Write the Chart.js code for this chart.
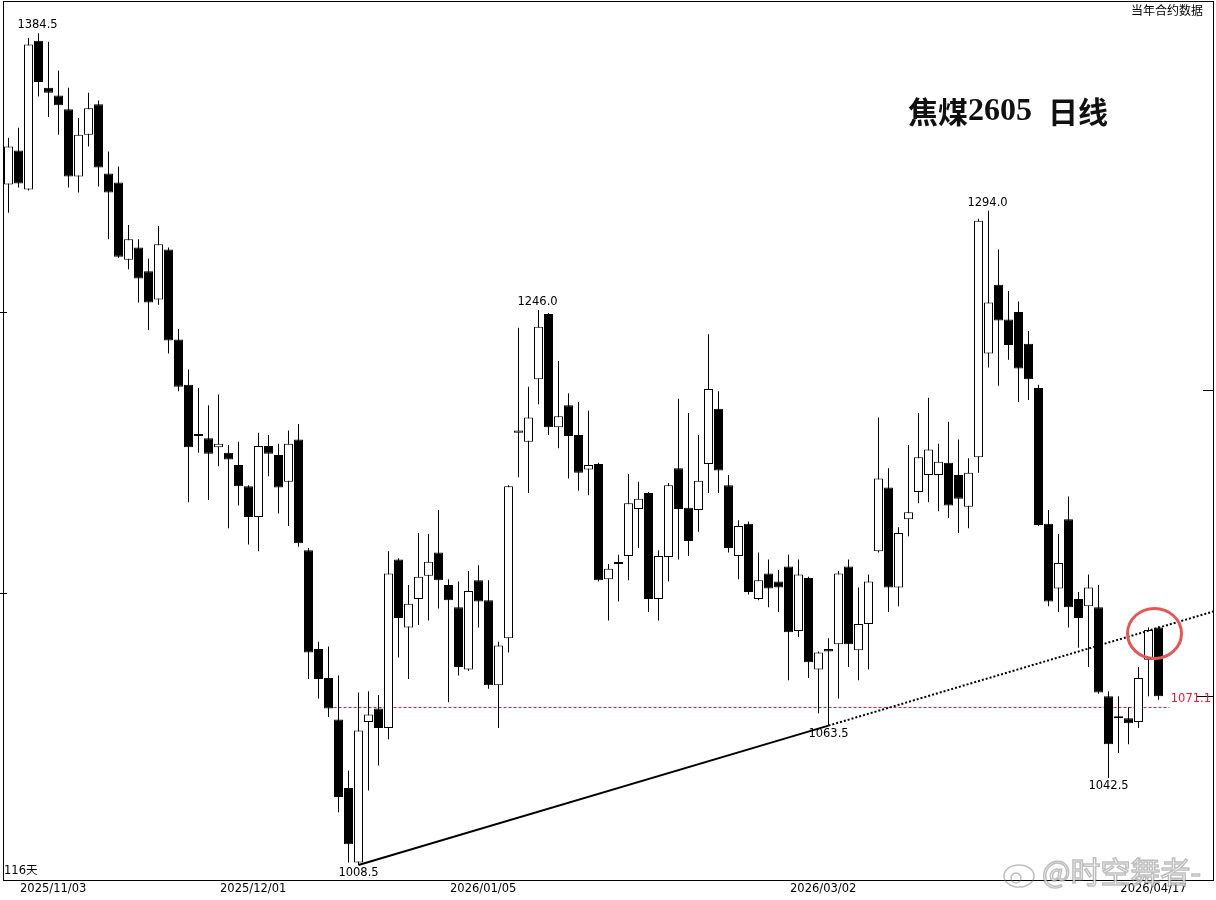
<!DOCTYPE html>
<html><head><meta charset="utf-8">
<script src="https://cdn.jsdelivr.net/npm/chart.js@4.4.1/dist/chart.umd.min.js"></script>
<style>html,body{margin:0;padding:0;background:#fff;overflow:hidden}canvas{display:block}</style>
</head><body>
<canvas id="c" width="1216" height="900"></canvas>
<script>
const opens = [1307,1324,1304.5,1380.5,1356,1352,1345,1311,1332,1347.5,
1312.5,1308,1270,1276,1264.5,1251,1275,1232,1211,1187.5,
1186.5,1182.5,1180,1174.5,1165,1151.5,1183,1179,1167,1186,
1137,1095,1083,1066,1038.5,1009.5,1065,1070.5,1062.5,1133,
1104,1116,1126,1136,1122,1112.5,1086.5,1124,1115.5,1080,
1099.5,1189,1185,1213.5,1244,1191.5,1201.5,1188,1172.5,1175,
1124.5,1131.5,1134.5,1155,1162,1116,1134,1173,1155.5,1154.5,
1175,1200,1165.5,1134.5,1148.5,1116,1127,1123.5,1130,1102.5,
1125,1086.5,1095,1097,1130,1094.5,1105.5,1136.5,1164.5,1121,
1150.5,1162.5,1170,1170,1175.5,1170,1156,1178,1225.5,1258,
1241.5,1245,1230,1209.5,1148.5,1120.5,1150.5,1116,1113,1112.5,
1075.5,1066.5,1066.5,1065,1090.5,1104];
const highs = [1330.5,1335.5,1382,1384.5,1380,1365,1356,1340.5,1353.5,1349.5,
1323.5,1316,1287,1280,1270.5,1286.5,1276,1237,1218,1209.5,
1201.5,1206.5,1183.5,1185,1165.5,1189,1188,1184,1190,1193,
1138,1098,1096,1084,1045.5,1077,1077.5,1076,1136.5,1133.5,
1122,1144.5,1144,1154.5,1124.5,1123.5,1128,1130.5,1124,1098,
1165.5,1237.5,1210,1246,1244.5,1222,1207,1203,1199,1175.5,
1131,1135,1170.5,1167,1162.5,1137,1166.5,1204.5,1198,1188,
1234.5,1208,1170,1150,1149.5,1136,1133,1128.5,1135,1133,
1125.5,1094,1099.5,1128,1133,1121,1126.5,1196,1173,1147,
1183.5,1198,1205,1184,1194,1186,1177.5,1290,1294,1275,
1255,1250,1236,1211,1154.5,1144,1160.5,1119,1126.5,1122,
1077.5,1075.5,1071,1087.5,1104,1104.5];
const lows = [1293,1305.5,1304,1351.5,1341,1332,1305.5,1303,1326,1306,
1280,1271,1265.5,1249.5,1236.5,1248.5,1225.5,1208,1158,1180,
1159,1174,1146.5,1156.5,1139.5,1136.5,1169.5,1153,1147.5,1138.5,
1082.5,1074.5,1067,1029,1009.5,1008.5,1037.5,1047.5,1058,1091.5,
1082.5,1105,1107,1112,1073,1084,1086,1104,1078.5,1062.5,
1093.5,1169,1162,1202,1188,1182,1168.5,1163,1161,1123.5,
1107,1115,1124,1138,1110.5,1107,1123.5,1133,1134.5,1145,
1162,1162,1136,1124.5,1118,1115.5,1112.5,1110.5,1082,1100,
1083,1068.5,1063.5,1074.5,1087.5,1082,1086.5,1136,1110.5,1113,
1143,1157.5,1158,1154,1151,1144.5,1146.5,1171,1219,1210.5,
1222.5,1203,1204,1147.5,1113,1110.5,1104,1095.5,1087.5,1076.5,
1042.5,1052.5,1056,1062.5,1075.5,1074];
const closes = [1326,1307.5,1378.5,1359,1353.5,1347,1311,1332,1345.5,1315.5,
1303,1271.5,1280,1261,1249.5,1277.5,1231.5,1210,1182.5,1188.5,
1179.5,1184,1177,1165,1151.5,1183,1179.5,1164.5,1184,1140,
1093.5,1082.5,1070.5,1035,1016.5,1061.5,1068,1062.5,1127,1108,
1114,1125.5,1132,1124,1115.5,1087.5,1119.5,1115,1080,1096.5,
1165,1190,1196,1238,1191.5,1196.5,1187.5,1171,1174.5,1124,
1129,1131,1157.5,1159.5,1116,1134.5,1165.5,1155,1141,1167.5,
1209,1172,1138,1147.5,1119,1124,1120.5,1121,1102,1126.5,
1089.5,1093.5,1094,1127,1097,1105.5,1123.5,1168.5,1121,1144.5,
1153.5,1178,1181.5,1176,1156.5,1159.5,1171,1289,1249.5,1241,
1229.5,1218.5,1213.5,1148,1115,1131.5,1112.5,1108,1121,1077,
1056,1066.5,1064.5,1083,1103,1075.5];

const tickIndex = [1, 21, 44, 78, 115];
const tickLabels = ['2025/11/03', '2025/12/01', '2026/01/05', '2026/03/02', '2026/04/17'];
const highMarks = [3, 53, 98];
const lowMarks = [35, 82, 110];
const trendFrom = 35, trendTo = 82;
const refLevel = 1071.1;
const refStart = 32;
const circleIdx = 114.6, circleVal = 1101.5;
const titleParts = ['焦煤', '2605', '  ', '日线'];
const cornerNote = '当年合约数据';
const dayCount = '116天';
const watermark = '@时空舞者-';

const idx = opens.map((_, i) => i);
const bodyData = idx.map(i => ({x: i, y: [opens[i], closes[i]]}));
const wickData = idx.map(i => ({x: i, y: [lows[i], highs[i]]}));
const bodyColors = idx.map(i => closes[i] > opens[i] ? '#ffffff' : '#000000');

const NUM_FONT = '11.5px "DejaVu Sans"';
const RED = '#dc1e3a';

const deco = {
  id: 'deco',
  beforeDatasetsDraw(chart) {
    const {ctx, chartArea: a, scales: {x, y}} = chart;
    ctx.save();
    const yl = Math.round(y.getPixelForValue(refLevel)) + 0.5;
    ctx.strokeStyle = RED; ctx.lineWidth = 1; ctx.setLineDash([3, 2]);
    ctx.beginPath(); ctx.moveTo(x.getPixelForValue(refStart), yl); ctx.lineTo(a.right - 44, yl); ctx.stroke();
    ctx.restore();
  },
  afterDatasetsDraw(chart) {
    const {ctx, chartArea: a, scales: {x, y}} = chart;
    ctx.save();
    // frame
    ctx.fillStyle = '#000';
    ctx.fillRect(3, 1, 1, 880);
    ctx.fillRect(3, 1, 1211, 1);
    ctx.fillRect(1213, 1, 1, 880);
    ctx.fillRect(3, 880, 1211, 1);
    [1245, 1118.5].forEach(v => { const yy = Math.round(y.getPixelForValue(v)); ctx.fillRect(0, yy, 7, 1); });
    { const yy = Math.round(y.getPixelForValue(1208.5)); ctx.fillRect(1203, yy, 10, 1); }

    // trend line
    const x1 = x.getPixelForValue(trendFrom), y1 = y.getPixelForValue(lows[trendFrom]);
    const x2 = x.getPixelForValue(trendTo), y2 = y.getPixelForValue(lows[trendTo]);
    const slope = (y2 - y1) / (x2 - x1);
    ctx.strokeStyle = '#000'; ctx.lineWidth = 2;
    ctx.beginPath(); ctx.moveTo(x1, y1); ctx.lineTo(x2, y2); ctx.stroke();
    ctx.setLineDash([2, 2]);
    ctx.beginPath(); ctx.moveTo(x2, y2); ctx.lineTo(a.right, y2 + slope * (a.right - x2)); ctx.stroke();
    ctx.setLineDash([]);

    // circle
    ctx.strokeStyle = '#e05858'; ctx.lineWidth = 3;
    ctx.beginPath();
    ctx.ellipse(x.getPixelForValue(circleIdx), y.getPixelForValue(circleVal), 27, 25, 0, 0, Math.PI * 2);
    ctx.stroke();

    // last price marker
    const lp = Math.round(y.getPixelForValue(closes[closes.length - 1])) + 0.5;
    ctx.strokeStyle = '#000'; ctx.lineWidth = 1;
    ctx.beginPath(); ctx.moveTo(a.right - 17, lp); ctx.lineTo(a.right, lp); ctx.stroke();

    // high / low labels
    ctx.font = NUM_FONT; ctx.fillStyle = '#000'; ctx.textAlign = 'center'; ctx.textBaseline = 'middle';
    highMarks.forEach(i => ctx.fillText(highs[i].toFixed(1), x.getPixelForValue(i) - 1, y.getPixelForValue(highs[i]) - 8));
    lowMarks.forEach(i => ctx.fillText(lows[i].toFixed(1), x.getPixelForValue(i), y.getPixelForValue(lows[i]) + 8));

    // ref label
    ctx.fillStyle = RED; ctx.textAlign = 'right';
    ctx.fillText(refLevel.toFixed(1), 1211, y.getPixelForValue(refLevel) - 8);

    // x tick labels
    ctx.fillStyle = '#000'; ctx.textBaseline = 'middle';
    tickIndex.forEach((t, k) => {
      const px = x.getPixelForValue(t);
      const w = ctx.measureText(tickLabels[k]).width;
      if (px + w > a.right - 10) { ctx.textAlign = 'center'; ctx.fillText(tickLabels[k], px - 5, 889); }
      else { ctx.textAlign = 'left'; ctx.fillText(tickLabels[k], px + 1.5, 889); }
    });

    // day count
    ctx.textAlign = 'left'; ctx.font = '11.5px "DejaVu Sans", "Noto Sans CJK SC"';
    ctx.fillText(dayCount, 4, 871);

    // corner note
    ctx.font = '12px "Noto Sans CJK SC"'; ctx.textAlign = 'right';
    ctx.fillText(cornerNote, 1203, 10);

    // title
    ctx.textAlign = 'left'; ctx.textBaseline = 'middle';
    let tx = 908;
    titleParts.forEach((p, k) => {
      ctx.font = (k === 1 || k === 2) ? 'bold 32px "Liberation Serif"' : '600 30px "Noto Sans CJK SC"';
      ctx.fillStyle = '#111';
      ctx.fillText(p, tx, 112);
      tx += ctx.measureText(p).width;
    });

    // watermark
    ctx.font = '30px "Noto Sans CJK SC"';
    ctx.textAlign = 'left'; ctx.textBaseline = 'middle';
    ctx.lineWidth = 1.5; ctx.strokeStyle = 'rgba(110,110,110,0.45)'; ctx.fillStyle = 'rgba(255,255,255,0.8)';
    ctx.fillText(watermark, 1042, 872); ctx.strokeText(watermark, 1042, 872);
    ctx.beginPath(); ctx.ellipse(1019, 876, 15, 11, 0, 0, Math.PI * 2); ctx.stroke();
    ctx.beginPath(); ctx.arc(1016, 878, 5, 0, Math.PI * 2); ctx.stroke();
    ctx.restore();
  }
};

new Chart(document.getElementById('c'), {
  type: 'bar',
  data: {
    datasets: [
      {label: 'body', data: bodyData, backgroundColor: bodyColors, borderColor: '#000', borderWidth: 1,
       borderSkipped: false, barThickness: 9, minBarLength: 2, grouped: false, inflateAmount: 0, order: 0},
      {label: 'wick', data: wickData, backgroundColor: '#000', borderWidth: 0,
       barThickness: 1, grouped: false, inflateAmount: 0, order: 1}
    ]
  },
  options: {
    responsive: false, animation: false, devicePixelRatio: 1, events: [],
    layout: {padding: {left: 3.5, right: 2.5, top: 1, bottom: 20}},
    plugins: {legend: {display: false}, tooltip: {enabled: false}},
    scales: {
      x: {type: 'linear', min: -0.5, max: 120.5, offset: false, display: false},
      y: {type: 'logarithmic', min: 1002.75, max: 1401.6, offset: false, beginAtZero: false, display: false}
    }
  },
  plugins: [deco]
});
</script>
</body></html>
